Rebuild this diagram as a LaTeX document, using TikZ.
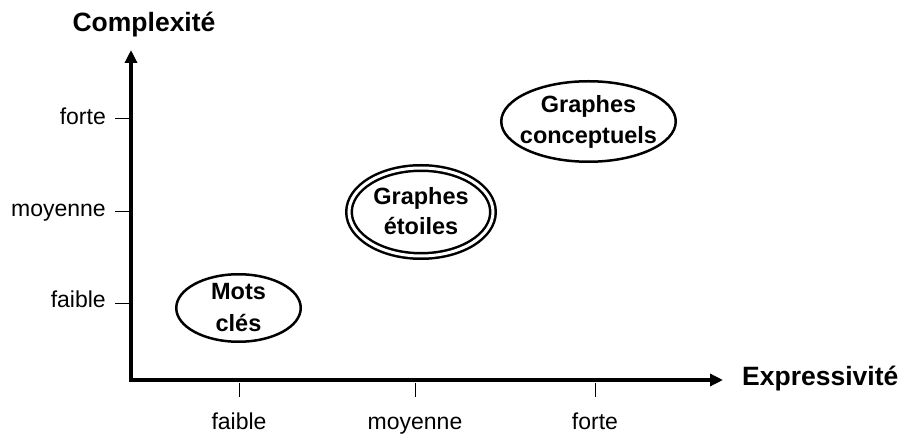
\documentclass[tikz,border=0pt]{standalone}
\usepackage{fontspec}
\setmainfont{Liberation Sans}
\usetikzlibrary{arrows.meta,shapes.geometric}
\begin{document}
\begin{tikzpicture}[x=1pt,y=-1pt,
  axis/.style={line width=3.5pt,-{Triangle[length=13pt,width=12pt]}},
  tick/.style={line width=0.9pt},
  lab/.style={font=\fontsize{23}{26}\selectfont,inner sep=0pt},
  title/.style={font=\bfseries\fontsize{26.5}{30}\selectfont,inner sep=0pt},
  blob/.style={ellipse,draw,line width=2.5pt,inner sep=0pt},
  btxt/.style={font=\bfseries\fontsize{23.5}{27}\selectfont,inner sep=0pt,anchor=base},
]
\useasboundingbox (0,0) rectangle (903,435);
\coordinate (O) at (131,381.75);
\coordinate (Oh) at (129.25,380);
\coordinate (ytop) at (131,50);
\coordinate (xend) at (723,380);
\draw[axis] (O) -- (ytop);
\draw[axis] (Oh) -- (xend);
\node[title,anchor=base west] (xt) at (742,386) {Expressivité};
\node[title,anchor=base] (yt) at (144,32) {Complexité};
% y ticks
\foreach \y/\b/\t/\n in {118/125/forte/yf,211/217/moyenne/ym,303/308/faible/yl}{
  \coordinate (\n a) at (115,\y);
  \coordinate (\n b) at (129,\y);
  \draw[tick] (\n a) -- (\n b);
  \node[lab,anchor=base east] (\n) at (106,\b) {\t};
}
% x ticks
\foreach \x/\t/\n in {239/faible/xl,415/moyenne/xm,595/forte/xf}{
  \coordinate (\n a) at (\x,383);
  \coordinate (\n b) at (\x,397);
  \draw[tick] (\n a) -- (\n b);
  \node[lab,anchor=base] (\n) at (\x,430) {\t};
}
\node[blob,minimum width=124.5pt,minimum height=67.5pt] (mots) at (238.5,308) {};
\node[btxt] (mots1) at (238.5,300) {Mots};
\node[btxt] (mots2) at (238.5,332) {clés};
\node[blob,line width=2.5pt,double distance=3pt,minimum width=144pt,minimum height=88pt] (etoiles) at (421,212) {};
\node[btxt] (et1) at (421,205) {Graphes};
\node[btxt] (et2) at (421,235) {étoiles};
\node[blob,minimum width=174.5pt,minimum height=80.5pt] (concept) at (588.5,121.5) {};
\node[btxt] (co1) at (588.5,113) {Graphes};
\node[btxt] (co2) at (588.5,144) {conceptuels};
\end{tikzpicture}
\end{document}
